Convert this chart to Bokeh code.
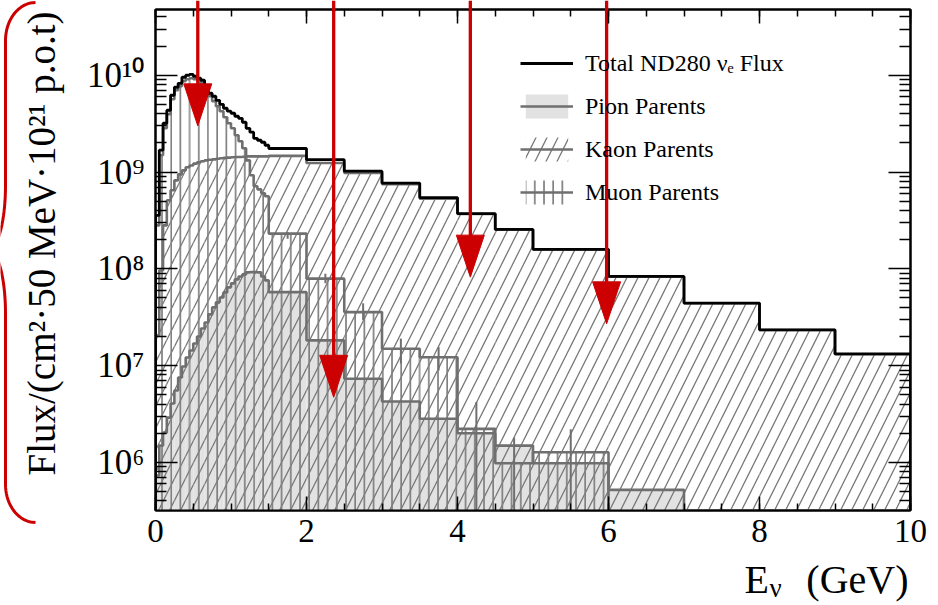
import numpy as np
from bokeh.plotting import figure
from bokeh.models import (Range1d, LinearAxis, LogAxis, FixedTicker, SingleIntervalTicker,
                          CustomJSTickFormatter, Legend, LegendItem, GridBox, Plot)
from bokeh.core.properties import value
from bokeh.embed import file_html
from bokeh.resources import INLINE

# ---------------- data ----------------
bin_edges = [0.0, 0.05, 0.1, 0.15, 0.2, 0.25, 0.3, 0.35, 0.4, 0.45, 0.5, 0.55, 0.6, 0.65,
             0.7, 0.75, 0.8, 0.85, 0.9, 0.95, 1.0, 1.05, 1.1, 1.15, 1.2, 1.25, 1.3, 1.35,
             1.4, 1.45, 1.5, 2.0, 2.5, 3.0, 3.5, 4.0, 4.5, 5.0, 6.0, 7.0, 8.0, 9.0, 10.0]

total_flux = [3.56e8, 1.68e9, 3.19e9, 4.35e9, 6.21e9, 7.52e9, 8.26e9, 9.53e9, 1.00e10, 1.02e10,
              9.77e9, 9.31e9, 8.88e9, 7.35e9, 6.52e9, 6.07e9, 5.51e9, 5.01e9, 4.56e9, 4.25e9,
              4.05e9, 3.77e9, 3.59e9, 3.27e9, 2.83e9, 2.58e9, 2.23e9, 2.13e9, 2.03e9, 1.89e9,
              1.75e9, 1.34e9, 1.02e9, 7.69e8, 5.45e8, 3.72e8, 2.55e8, 1.59e8, 8.34e7, 4.42e7,
              2.34e7, 1.32e7]

kaon_flux = [2.05e7, 9.62e7, 2.81e8, 5.09e8, 6.47e8, 8.20e8, 9.46e8, 1.04e9, 1.12e9, 1.17e9,
             1.22e9, 1.26e9, 1.29e9, 1.32e9, 1.34e9, 1.35e9, 1.37e9, 1.39e9, 1.40e9, 1.41e9,
             1.42e9, 1.43e9, 1.43e9, 1.44e9, 1.45e9, 1.45e9, 1.45e9, 1.45e9, 1.45e9, 1.45e9,
             1.47e9, 1.24e9, 9.77e8, 7.50e8, 5.30e8, 3.68e8, 2.53e8, 1.58e8, 8.3e7, 4.4e7,
             2.33e7, 1.31e7]

muon_flux = [2.81e8, 1.49e9, 2.83e9, 3.95e9, 5.65e9, 7.0e9, 7.70e9, 8.7e9, 9.1e9, 9.3e9,
             9.1e9, 8.88e9, 8.26e9, 7.0e9, 6.07e9, 5.38e9, 4.78e9, 4.25e9, 3.68e9, 3.19e9,
             2.83e9, 2.40e9, 2.08e9, 1.76e9, 1.32e9, 9.25e8, 7.12e8, 6.62e8, 6.03e8, 5.61e8,
             2.31e8, 7.91e7, 3.57e7, 1.49e7, 1.22e7, 2.22e6, 9.8e5, 1.27e6]

pion_flux = [7.3e5, 1.49e6, 2.03e6, 2.90e6, 4.06e6, 5.53e6, 7.54e6, 9.79e6, 1.21e7, 1.43e7,
             1.69e7, 2.00e7, 2.42e7, 2.79e7, 3.38e7, 3.99e7, 4.50e7, 5.06e7, 5.70e7, 6.43e7,
             7.07e7, 7.77e7, 8.34e7, 8.75e7, 9.19e7, 9.25e7, 9.25e7, 9.19e7, 8.34e7, 7.59e7,
             5.74e7, 1.82e7, 7.31e6, 4.26e6, 2.82e6, 2.00e6, 1.49e6, 9.8e5, 5.2e5]

# muon error bars on the coarse bins (1.5 - 6 GeV); 0 = bar reaches the bottom
muon_err_hi = [2.40e8, 8.9e7, 4.4e7, 1.9e7, 1.55e7, 4.2e6, 1.8e6, 2.2e6]
muon_err_lo = [2.04e8, 7.1e7, 2.95e7, 1.05e7, 8.9e6, 0.0, 0.0, 0.0]

y_tick_values = [1e6, 1e7, 1e8, 1e9, 1e10]

# annotation arrows (x in GeV, tip in flux units)
arrow_x = [0.56, 2.36, 4.17, 5.975]
arrow_tip = [3.0e9, 4.7e6, 8.2e7, 2.7e7]

legend_labels = ["Total ND280 \u03bd\u2091 Flux", "Pion Parents", "Kaon Parents", "Muon Parents"]
y_title = "Flux/(cm\u00b2\u00b750 MeV\u00b710\u00b2\u00b9 p.o.t)"
x_title = ["E", "\u03bd", "(GeV)"]

# ---------------- layout ----------------
W, H = 930, 604
BL, BR, BT, BB = 155, 20, 9, 94
FW, FH = W - BL - BR, H - BT - BB
x_lo, x_hi = 0.0, 10.0
y_lo, y_hi = 3.18e5, 4.78e10
px_per_x = FW / (x_hi - x_lo)
px_per_dec = FH / (np.log10(y_hi) - np.log10(y_lo))
FLOOR = 1e3
FONT = "Liberation Serif"
GREY = "#6f6f6f"
RED = "#cc0000"
HAS_FRAME_ALIGN = "frame_align" in Plot.properties()

p = figure(width=W, height=H, x_range=Range1d(x_lo, x_hi), y_range=Range1d(y_lo, y_hi),
           y_axis_type="log", output_backend="svg", toolbar_location=None,
           min_border_left=BL, min_border_right=BR, min_border_top=BT, min_border_bottom=BB)
p.xgrid.visible = False
p.ygrid.visible = False
p.outline_line_color = "black"
p.outline_line_width = 2
p.background_fill_color = "white"
p.border_fill_color = "white"
if HAS_FRAME_ALIGN:
    p.frame_align = False

minor_y = [m * 10.0 ** n for n in range(5, 11) for m in range(2, 10)]
sup_code = """
const sup = {"0":"\u2070","1":"\u00b9","2":"\u00b2","3":"\u00b3","4":"\u2074","5":"\u2075",
             "6":"\u2076","7":"\u2077","8":"\u2078","9":"\u2079","-":"\u207b"};
const e = Math.round(Math.log10(tick));
return "10" + String(e).split("").map(c => sup[c]).join("");
"""

def style_axis(ax, tin, minin):
    ax.axis_line_color = "black"
    ax.axis_line_width = 2
    ax.major_tick_line_color = "black"
    ax.minor_tick_line_color = "black"
    ax.major_tick_line_width = 1.5
    ax.minor_tick_line_width = 1.5
    ax.major_tick_in = tin
    ax.major_tick_out = 0
    ax.minor_tick_in = minin
    ax.minor_tick_out = 0
    ax.major_label_text_color = "black"
    ax.axis_label_text_color = "black"

# left axis
yax = p.yaxis[0]
yax.ticker = FixedTicker(ticks=y_tick_values, minor_ticks=minor_y)
yax.formatter = CustomJSTickFormatter(code=sup_code)
style_axis(yax, 22, 11)
yax.major_label_text_font = FONT
yax.major_label_text_font_size = "35px"
yax.major_label_standoff = 11

# bottom axis
xax = p.xaxis[0]
xax.ticker = SingleIntervalTicker(interval=2, num_minor_ticks=4)
style_axis(xax, 14, 7)
xax.major_label_text_font = FONT
xax.major_label_text_font_size = "33px"
xax.major_label_standoff = 9

empty = CustomJSTickFormatter(code="return ''")
top = LinearAxis(ticker=SingleIntervalTicker(interval=2, num_minor_ticks=4), formatter=empty,
                 major_label_standoff=0, major_label_text_font_size="0px")
style_axis(top, 14, 7)
p.add_layout(top, "above")
right = LogAxis(ticker=FixedTicker(ticks=y_tick_values, minor_ticks=minor_y), formatter=empty,
                major_label_standoff=0, major_label_text_font_size="0px")
style_axis(right, 22, 11)
p.add_layout(right, "right")

# ---------------- histograms ----------------
edges = np.array(bin_edges)

def step_path(vals):
    n = len(vals)
    xs, ys = [edges[0]], [FLOOR]
    for i in range(n):
        xs += [edges[i], edges[i + 1]]
        ys += [vals[i], vals[i]]
    xs.append(edges[n]); ys.append(FLOOR)
    return xs, ys

def bins(vals):
    n = len(vals)
    return dict(left=edges[:n], right=edges[1:n + 1], bottom=[FLOOR] * n, top=vals)

pion_q = p.quad(**bins(pion_flux), fill_color="#e2e2e2", line_color=None)
kaon_q = p.quad(**bins(kaon_flux), fill_alpha=0, line_color=None,
                hatch_pattern="/", hatch_color="#777777", hatch_weight=1.3, hatch_scale=22)
muon_q = p.quad(**bins(muon_flux), fill_alpha=0, line_color=None,
                hatch_pattern="|", hatch_color="#7f7f7f", hatch_weight=1.7, hatch_scale=9.2)

kx, ky = step_path(kaon_flux)
kaon_l = p.line(kx, ky, line_color=GREY, line_width=2.6)
mx, my = step_path(muon_flux)
muon_l = p.line(mx, my, line_color=GREY, line_width=2.6)
px_, py_ = step_path(pion_flux)
pion_l = p.line(px_, py_, line_color=GREY, line_width=2.6)

n_fine = len(muon_flux) - len(muon_err_hi)
err_x = (edges[n_fine:len(muon_flux)] + edges[n_fine + 1:len(muon_flux) + 1]) / 2
p.segment(x0=err_x, y0=np.maximum(muon_err_lo, FLOOR), x1=err_x, y1=muon_err_hi,
          line_color=GREY, line_width=2)

tx, ty = step_path(total_flux)
total_l = p.line(tx, ty, line_color="black", line_width=2.8)

# ---------------- legend ----------------
legend = Legend(items=[LegendItem(label=legend_labels[0], renderers=[total_l]),
                       LegendItem(label=legend_labels[1], renderers=[pion_q, pion_l]),
                       LegendItem(label=legend_labels[2], renderers=[kaon_q, kaon_l]),
                       LegendItem(label=legend_labels[3], renderers=[muon_q, muon_l])],
                location=(365, 303), glyph_width=53, glyph_height=30, spacing=13,
                padding=0, margin=0, label_standoff=12, label_height=30,
                label_text_font=FONT, label_text_font_size="24px", label_text_color="black",
                background_fill_alpha=0, border_line_alpha=0)
p.add_layout(legend)

# ---------------- red annotation arrows ----------------
head_len = 10 ** (42 / px_per_dec)
head_half = 14 / px_per_x
ax_ = np.array(arrow_x); at_ = np.array(arrow_tip)
p.segment(x0=ax_, y0=at_ * head_len * 0.9, x1=ax_, y1=[1e13] * len(ax_),
          line_color=RED, line_width=3.3)
p.patches(xs=[[x - head_half, x + head_half, x] for x in ax_],
          ys=[[t * head_len, t * head_len, t] for t in at_],
          fill_color=RED, line_color=RED, line_width=1)

# ---------------- transparent overlay (pixel space) for items outside the frame ----------------
ov = figure(width=W, height=H, x_range=Range1d(0, W), y_range=Range1d(H, 0),
            output_backend="svg", toolbar_location=None,
            min_border_left=0, min_border_right=0, min_border_top=0, min_border_bottom=0,
            x_axis_location=None, y_axis_location=None)
ov.xgrid.visible = False
ov.ygrid.visible = False
ov.outline_line_color = None
ov.background_fill_alpha = 0
ov.border_fill_alpha = 0
if HAS_FRAME_ALIGN:
    ov.frame_align = False

# arrow shafts continue above the frame up to the page top
shaft_px = BL + ax_ * px_per_x
ov.segment(x0=shaft_px, y0=[0] * len(ax_), x1=shaft_px, y1=[BT + 2] * len(ax_),
           line_color=RED, line_width=3.3)

# y-axis title (ROOT style: aligned to the top end of the axis)
ov.text(x=[41], y=[11], text=[y_title], angle=np.pi / 2, text_font=value(FONT),
        text_font_size="39px", text_baseline="middle", text_align="right", text_color="black")

# x-axis title  E_nu (GeV)
ov.text(x=[744], y=[579], text=[x_title[0]], text_font=value(FONT), text_font_size="40px",
        text_baseline="middle", text_align="left", text_color="black")
ov.text(x=[769], y=[587], text=[x_title[1]], text_font=value(FONT), text_font_size="27px",
        text_baseline="middle", text_align="left", text_color="black")
ov.text(x=[908], y=[579], text=[x_title[2]], text_font=value(FONT), text_font_size="40px",
        text_baseline="middle", text_align="right", text_color="black")

# red brace on the left edge
t = np.linspace(0, np.pi / 2, 20)
upper_x = np.concatenate([(35 - 30 * np.cos(t))[::-1], -12 + 17 * np.cos(t)])
upper_y = np.concatenate([(40 - 38 * np.sin(t))[::-1], 185 + 64 * np.sin(t)])
lower_x = np.concatenate([(-12 + 17 * np.cos(t))[::-1], 35 - 30 * np.cos(t)])
lower_y = np.concatenate([(313 - 64 * np.sin(t))[::-1], 484 + 38 * np.sin(t)])
ov.multi_line(xs=[list(upper_x), list(lower_x)], ys=[list(upper_y), list(lower_y)],
              line_color=RED, line_width=3)

layout = GridBox(children=[(p, 0, 0), (ov, 0, 0)])
open("out.html", "w").write(file_html(layout, INLINE))
